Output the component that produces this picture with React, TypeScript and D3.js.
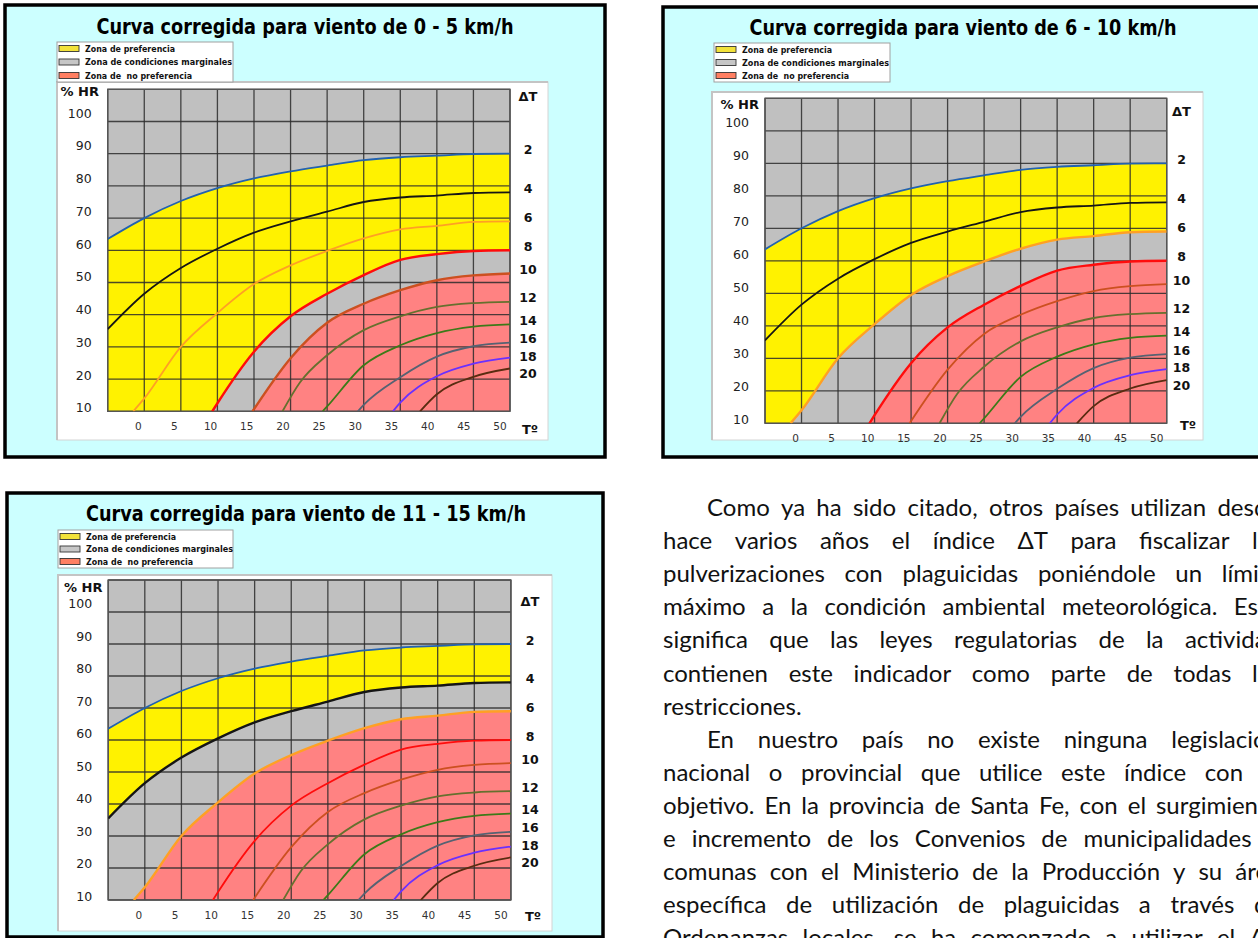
import { useMemo } from 'react';
import * as d3 from 'd3';

// ---- data ----
const TITLES = [
    'Curva corregida para viento de 0 - 5 km/h',
    'Curva corregida para viento de 6 - 10 km/h',
    'Curva corregida para viento de 11 - 15 km/h',
];
const LEGEND_LABELS = ['Zona de preferencia', 'Zona de condiciones marginales', 'Zona de  no preferencia'];
const LEGEND_WIDTHS = [90, 147, 107];

const GRID_T = [-5, 0, 5, 10, 15, 20, 25, 30, 35, 40, 45, 50];
const GRID_HR = [10, 20, 30, 40, 50, 60, 70, 80, 90, 100, 110];
const T_TICKS = [0, 5, 10, 15, 20, 25, 30, 35, 40, 45, 50];
const HR_TICKS = [10, 20, 30, 40, 50, 60, 70, 80, 90, 100];
const DT_LEVELS = [2, 4, 6, 8, 10, 12, 14, 16, 18, 20];

// [T, %HR] points of each ΔT curve
const dt2 = [[-5, 63.5], [0, 70], [5, 75.3], [10, 79.3], [15, 82.3], [20, 84.5], [25, 86.3], [30, 88], [35, 88.9], [40, 89.4], [45, 89.9], [50, 90]];
const dt4 = [[-5, 35.5], [0, 46.5], [5, 54.5], [10, 60.5], [15, 65.5], [20, 69], [25, 72], [30, 75], [35, 76.4], [40, 77], [45, 77.8], [50, 78]];
const dt6 = [[-1.5, 10], [0, 14], [5, 30], [10, 40.5], [15, 49.5], [20, 55.3], [25, 59.8], [30, 63.7], [35, 66.5], [40, 67.6], [45, 68.8], [50, 69]];
const dt8 = [[9.3, 10], [10, 12.5], [15, 28.5], [20, 39.5], [25, 46.5], [30, 52.3], [35, 57], [40, 58.8], [45, 59.8], [50, 60]];
const dt10 = [[14.8, 10], [20, 26.5], [25, 37.5], [30, 43.4], [35, 47.6], [40, 50.7], [45, 52.2], [50, 52.8]];
const dt12 = [[18.9, 10], [21.3, 19], [25, 27.4], [30, 35.2], [35, 39.5], [40, 42.4], [45, 43.6], [50, 44]];
const dt14 = [[24.4, 10], [25, 11.5], [30, 24.3], [35, 30.5], [40, 34.3], [45, 36.3], [50, 37]];
const dt16 = [[29.2, 10], [30, 12], [35, 20.6], [40, 27], [45, 30.2], [50, 31.3]];
const dt18 = [[34, 10], [35, 12.7], [40, 20.9], [45, 24.8], [50, 26.7]];
const dt20 = [[37.7, 10], [40, 15.3], [45, 20.7], [50, 23.3]];
const DT_CURVES = [dt2, dt4, dt6, dt8, dt10, dt12, dt14, dt16, dt18, dt20];
const DT_COLORS = ['#2262b0', '#151515', '#ffa024', '#ff0c0c', '#cc5020', '#66702e', '#3c7a18', '#566272', '#6a30ff', '#5a2c10'];

// ΔT curve below which each zone starts, per chart
const YELLOW_BELOW = [2, 2, 2];
const GRAY_BELOW = [8, 6, 4];
const RED_BELOW = [10, 8, 6];

const ZONE_COLORS = { yellow: '#fff200', gray: '#c0c0c0', red: '#ff8282' };
const LEGEND_COLORS = ['#f2e23a', '#c6c6c6', '#ff7f62'];

const TEXT_LINES = [
    'Como ya ha sido citado, otros países utilizan desde',
    'hace varios años el índice ΔT para fiscalizar las',
    'pulverizaciones con plaguicidas poniéndole un límite',
    'máximo a la condición ambiental meteorológica. Esto',
    'significa que las leyes regulatorias de la actividad',
    'contienen este indicador como parte de todas las',
    'restricciones.',
    'En nuestro país no existe ninguna legislación',
    'nacional o provincial que utilice este índice con el',
    'objetivo. En la provincia de Santa Fe, con el surgimiento',
    'e incremento de los Convenios de municipalidades y',
    'comunas con el Ministerio de la Producción y su área',
    'específica de utilización de plaguicidas a través de',
    'Ordenanzas locales, se ha comenzado a utilizar el ΔT',
];
const INDENTED_LINES = [0, 7];
const UNJUSTIFIED_LINES = [6];

// ---- layout ----
const LAYOUTS = [
    {
        box: [5, 5, 605, 457], title: [305, 34, 417], legend: [57, 42, 176, 40],
        panel: [57, 82, 548, 440], grid: [107.7, 89.3, 510, 411.3],
        hr: [60.5, 92.5], dtTitle: [528, 97], dtX: 528, tLabel: [530, 430],
    },
    {
        box: [663, 7, 1264, 457], title: [963, 35, 427], legend: [714, 43, 176, 39],
        panel: [712, 92, 1203, 440], grid: [765, 98.3, 1166.7, 423.3],
        hr: [720.5, 105], dtTitle: [1181.5, 112], dtX: 1181.5, tLabel: [1188, 426],
    },
    {
        box: [7, 493, 603, 937], title: [306, 520.5, 440], legend: [58, 530, 175, 38],
        panel: [58, 575, 552, 931], grid: [108.2, 580, 510.9, 900],
        hr: [64, 588.5], dtTitle: [530, 602], dtX: 530, tLabel: [533, 917],
    },
];

const SANS = '"DejaVu Sans", Verdana, sans-serif';

function Chart({ idx }: { idx: number }) {
    const L = LAYOUTS[idx];
    const [gx0, gy0, gx1, gy1] = L.grid;

    const x = d3.scaleLinear().domain([GRID_T[0], GRID_T[GRID_T.length - 1]]).range([gx0, gx1]);
    const y = d3.scaleLinear().domain([GRID_HR[0], GRID_HR[GRID_HR.length - 1]]).range([gy1, gy0]);

    const area = d3
        .area<number[]>()
        .x((d) => x(d[0]))
        .y0(y(GRID_HR[0]))
        .y1((d) => y(d[1]))
        .curve(d3.curveMonotoneX);
    const line = d3
        .line<number[]>()
        .x((d) => x(d[0]))
        .y((d) => y(d[1]))
        .curve(d3.curveMonotoneX);

    const curveOf = (dt: number) => DT_CURVES[DT_LEVELS.indexOf(dt)];
    const boundaries = [YELLOW_BELOW[idx], GRAY_BELOW[idx], RED_BELOW[idx]];
    const clipId = `grid-clip-${idx}`;

    // ΔT labels next to curve ends, pushed apart when crowded
    let prev = -Infinity;
    const labelYs = DT_CURVES.map((c) => {
        let ly = y(c[c.length - 1][1]) - 3;
        if (ly < prev + 17.5) ly = prev + 17.5;
        prev = ly;
        return ly;
    });

    const [bx0, by0, bx1, by1] = L.box;
    const [px0, py0, px1, py1] = L.panel;
    const [lx, ly, lw, lh] = L.legend;

    return (
        <g>
            <rect x={bx0} y={by0} width={bx1 - bx0} height={by1 - by0} fill="#ccffff" stroke="#000" strokeWidth={3.5} />
            <text
                x={L.title[0]}
                y={L.title[1]}
                textAnchor="middle"
                fontFamily={SANS}
                fontWeight="bold"
                fontSize={20.5}
                textLength={L.title[2]}
                lengthAdjust="spacingAndGlyphs"
                fill="#000"
            >
                {TITLES[idx]}
            </text>

            {/* plot panel */}
            <rect x={px0} y={py0} width={px1 - px0} height={py1 - py0} fill="#fff" stroke="#d4d4d4" strokeWidth={1} />
            <path d={`M${px0},${py1} V${py0} H${px1}`} fill="none" stroke="#c4c4c4" strokeWidth={2} />

            {/* legend */}
            <rect x={lx} y={ly} width={lw} height={lh} fill="#fff" stroke="#a0a0a0" strokeWidth={1} />
            {LEGEND_LABELS.map((lab, i) => {
                const cy = ly + 6.5 + i * (lh - 13) / 2;
                return (
                    <g key={lab}>
                        <rect x={lx + 2} y={cy - 3} width={20} height={6} fill={LEGEND_COLORS[i]} stroke="#333" strokeWidth={0.9} />
                        <text
                            x={lx + 28}
                            y={cy + 3}
                            fontFamily={SANS}
                            fontWeight="bold"
                            fontSize={8.5}
                            textLength={LEGEND_WIDTHS[i]}
                            lengthAdjust="spacingAndGlyphs"
                            fill="#111"
                            style={{ whiteSpace: 'pre' }}
                        >
                            {lab}
                        </text>
                    </g>
                );
            })}

            <defs>
                <clipPath id={clipId}>
                    <rect x={gx0} y={gy0} width={gx1 - gx0} height={gy1 - gy0} />
                </clipPath>
            </defs>

            {/* zones */}
            <g clipPath={`url(#${clipId})`}>
                <rect x={gx0} y={gy0} width={gx1 - gx0} height={gy1 - gy0} fill={ZONE_COLORS.gray} />
                <path d={area(curveOf(YELLOW_BELOW[idx])) ?? ''} fill={ZONE_COLORS.yellow} />
                <path d={area(curveOf(GRAY_BELOW[idx])) ?? ''} fill={ZONE_COLORS.gray} />
                <path d={area(curveOf(RED_BELOW[idx])) ?? ''} fill={ZONE_COLORS.red} />
            </g>

            {/* grid */}
            <g stroke="#2b2b2b" strokeWidth={1.3} strokeOpacity={0.85}>
                {GRID_T.map((t) => (
                    <line key={`v${t}`} x1={x(t)} x2={x(t)} y1={gy0} y2={gy1} />
                ))}
                {GRID_HR.map((h) => (
                    <line key={`h${h}`} x1={gx0} x2={gx1} y1={y(h)} y2={y(h)} />
                ))}
            </g>
            <rect x={gx0} y={gy0} width={gx1 - gx0} height={gy1 - gy0} fill="none" stroke="#555" strokeWidth={1.4} />

            {/* ΔT curves */}
            <g clipPath={`url(#${clipId})`} fill="none">
                {DT_CURVES.map((c, i) => (
                    <path
                        key={DT_LEVELS[i]}
                        d={line(c) ?? ''}
                        stroke={DT_COLORS[i]}
                        strokeWidth={boundaries.includes(DT_LEVELS[i]) && DT_LEVELS[i] > 2 ? 2.4 : 1.8}
                    />
                ))}
            </g>

            {/* axes labels */}
            <text x={L.hr[0]} y={L.hr[1]} dominantBaseline="middle" fontFamily={SANS} fontWeight="bold" fontSize={13} fill="#111">
                % HR
            </text>
            {HR_TICKS.map((h) => (
                <text
                    key={h}
                    x={gx0 - 16}
                    y={y(h) - 2.5 - ((h - 10) / 90) * 5}
                    textAnchor="end"
                    dominantBaseline="middle"
                    fontFamily={SANS}
                    fontSize={12.5}
                    fill="#222"
                >
                    {h}
                </text>
            ))}
            {T_TICKS.map((t) => (
                <text
                    key={t}
                    x={x(t) - 6 - (t / 50) * 4}
                    y={gy1 + 15.7}
                    textAnchor="middle"
                    dominantBaseline="middle"
                    fontFamily={SANS}
                    fontSize={10.5}
                    fill="#333"
                >
                    {t}
                </text>
            ))}
            <text x={L.tLabel[0]} y={L.tLabel[1]} textAnchor="middle" dominantBaseline="middle" fontFamily={SANS} fontWeight="bold" fontSize={13} fill="#111">
                Tº
            </text>
            <text x={L.dtTitle[0]} y={L.dtTitle[1]} textAnchor="middle" dominantBaseline="middle" fontFamily={SANS} fontWeight="bold" fontSize={13} fill="#111">
                ΔT
            </text>
            {DT_LEVELS.map((dt, i) => (
                <text
                    key={dt}
                    x={L.dtX}
                    y={labelYs[i]}
                    textAnchor="middle"
                    dominantBaseline="middle"
                    fontFamily={SANS}
                    fontWeight="bold"
                    fontSize={12.5}
                    fill="#111"
                >
                    {dt}
                </text>
            ))}
        </g>
    );
}

const TEXT_FONT = 'Lato, "Open Sans", sans-serif';
const TEXT_SIZE = 24;
const TEXT_LEFT = 663;
const TEXT_RIGHT = 1280;
const TEXT_INDENT = 44;
const TEXT_TOP = 516;
const TEXT_STEP = 33.1;

function Paragraph() {
    const lines = useMemo(() => {
        const ctx = document.createElement('canvas').getContext('2d')!;
        ctx.font = `${TEXT_SIZE}px ${TEXT_FONT}`;
        const space = ctx.measureText(' ').width;
        return TEXT_LINES.map((txt, i) => {
            const words = txt.split(' ');
            const widths = words.map((w) => ctx.measureText(w).width);
            const start = TEXT_LEFT + (INDENTED_LINES.includes(i) ? TEXT_INDENT : 0);
            const total = d3.sum(widths);
            const gap = UNJUSTIFIED_LINES.includes(i) || words.length < 2
                ? space
                : (TEXT_RIGHT - start - total) / (words.length - 1);
            let cx = start;
            return words.map((w, k) => {
                const pos = cx;
                cx += widths[k] + gap;
                return { w, pos };
            });
        });
    }, []);

    return (
        <g fontFamily={TEXT_FONT} fontSize={TEXT_SIZE} fill="#111">
            {lines.map((ws, i) => (
                <text key={i} y={TEXT_TOP + i * TEXT_STEP}>
                    {ws.map((d, k) => (
                        <tspan key={k} x={d.pos}>
                            {d.w}
                        </tspan>
                    ))}
                </text>
            ))}
        </g>
    );
}

export default function App() {
    return (
        <div>
            <style>{'body{margin:0;overflow:hidden;background:#fff}'}</style>
            <svg width={1258} height={938} style={{ display: 'block' }}>
                <rect width={1258} height={938} fill="#fff" />
                {LAYOUTS.map((_, i) => (
                    <Chart key={i} idx={i} />
                ))}
                <Paragraph />
            </svg>
        </div>
    );
}
